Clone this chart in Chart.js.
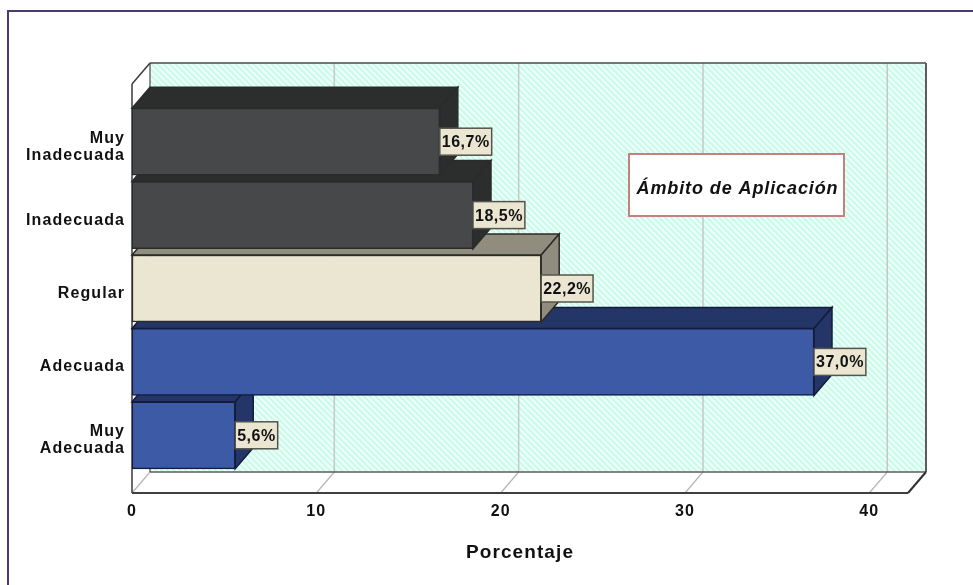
<!DOCTYPE html>
<html><head><meta charset="utf-8">
<style>html,body{margin:0;padding:0;background:#fff;overflow:hidden}canvas{display:block}</style>
<script src="https://cdn.jsdelivr.net/npm/chart.js@4"></script>
</head><body><canvas id="c" width="973" height="585"></canvas>
<script>
const categories = [["Muy","Inadecuada"],"Inadecuada","Regular","Adecuada",["Muy","Adecuada"]];
const values = [16.7,18.5,22.2,37.0,5.6];
const valueLabels = ["16,7%","18,5%","22,2%","37,0%","5,6%"];
const frontColors = ["#46484a","#46484a","#ebe6d2","#3d5aa7","#3d5aa7"];
const sideColors = ["#2c2e2e","#2c2e2e","#918d7e","#243568","#243568"];
const edgeColors = ["#2a2b2b","#2a2b2b","#2c2b26","#141c3c","#141c3c"];
const xTitle = "Porcentaje";
const noteText = "Ámbito de Aplicación";

const DX = 18, DY = 21;
function hatch(ctx){
  const s=6,t=document.createElement('canvas');t.width=s;t.height=s;
  const g=t.getContext('2d');
  for(let x=0;x<s;x++)for(let y=0;y<s;y++){
    const k=(x-y+s*2)%s;
    g.fillStyle=k<2?'#effffa':(k===2||k===5?'#dcfdf2':'#c9fbe9');g.fillRect(x,y,1,1);
  }
  return ctx.createPattern(t,'repeat');
}
function poly(ctx,pts,fill,stroke,w){
  ctx.beginPath();pts.forEach((p,i)=>i?ctx.lineTo(p[0],p[1]):ctx.moveTo(p[0],p[1]));ctx.closePath();
  if(fill){ctx.fillStyle=fill;ctx.fill();}
  if(stroke){ctx.strokeStyle=stroke;ctx.lineWidth=w||1;ctx.stroke();}
}
function line(ctx,a,b,c,w){ctx.beginPath();ctx.moveTo(a[0],a[1]);ctx.lineTo(b[0],b[1]);ctx.strokeStyle=c;ctx.lineWidth=w;ctx.stroke();}

const scene = {
  id:'scene',
  beforeDraw(chart){
    const ctx=chart.ctx;
    ctx.letterSpacing='1.1px';
    // outer frame
    ctx.save();ctx.strokeStyle='#4a3b6c';ctx.lineWidth=2;ctx.strokeRect(8,11,1000,620);ctx.restore();
  },
  beforeDatasetsDraw(chart){
    const ctx=chart.ctx,a=chart.chartArea,xs=chart.scales.x;
    const L=a.left,R=a.right,B=a.bottom+DY,T=a.top-DY;
    const wallT=T-DY+0,wallB=a.bottom;
    ctx.save();
    // back wall
    poly(ctx,[[L+DX,wallT],[R+DX,wallT],[R+DX,wallB],[L+DX,wallB]],hatch(ctx));
    // left wall and floor
    poly(ctx,[[L,wallT+DY],[L+DX,wallT],[L+DX,wallB],[L,B]],'#fff');
    poly(ctx,[[L,B],[L+DX,wallB],[R+DX,wallB],[R,B]],'#fff');
    // grid
    xs.ticks.forEach(t=>{
      const px=xs.getPixelForValue(t.value);
      if(t.value!==0) line(ctx,[px+DX,wallT],[px+DX,wallB],'#c4c8c6',1.5);
      line(ctx,[px,B],[px+DX,wallB],'#b5b5b5',1.2);
    });
    // wall edges
    line(ctx,[L+DX,wallB],[R+DX,wallB],'#5c5c5c',1.5);
    line(ctx,[L+DX,wallT],[R+DX,wallT],'#4a4a4a',1.5);
    line(ctx,[R+DX,wallT],[R+DX,wallB],'#5c5c5c',2);
    line(ctx,[L+DX,wallT],[L+DX,wallB],'#4a4a4a',1.2);
    line(ctx,[L,wallT+DY],[L+DX,wallT],'#3a3a3a',1.5);
    line(ctx,[L,wallT+DY],[L,B],'#3a3a3a',1.5);
    line(ctx,[L,B],[R,B],'#3f3f3f',2);
    line(ctx,[R,B],[R+DX,wallB],'#2f2f2f',2);
    // top and side faces, from the lowest bar upward
    const bars=chart.getDatasetMeta(0).data;
    for(let i=bars.length-1;i>=0;i--){
      const b=bars[i],h=b.height/2,x0=b.base,x1=b.x,y0=b.y-h,y1=b.y+h;
      poly(ctx,[[x0,y0],[x0+DX,y0-DY],[x1+DX,y0-DY],[x1,y0]],sideColors[i],edgeColors[i],1.5);
      poly(ctx,[[x1,y0],[x1+DX,y0-DY],[x1+DX,y1-DY],[x1,y1]],sideColors[i],edgeColors[i],1.5);
    }
    ctx.restore();
  },
  afterDatasetsDraw(chart){
    const ctx=chart.ctx;
    ctx.save();
    ctx.letterSpacing='0.5px';
    const bars=chart.getDatasetMeta(0).data;
    ctx.textBaseline='middle';ctx.textAlign='center';
    ctx.font='bold 16px "Liberation Sans"';
    bars.forEach((b,i)=>{
      const w=ctx.measureText(valueLabels[i]).width+4,h=27,x=b.x,y=b.y-13.5;
      ctx.fillStyle='#ebe6d2';ctx.fillRect(x,y,w,h);
      ctx.strokeStyle='#55544c';ctx.lineWidth=1.5;ctx.strokeRect(x,y,w,h);
      ctx.fillStyle='#111';ctx.fillText(valueLabels[i],x+w/2,b.y+1);
    });
    // note box
    ctx.fillStyle='#fff';ctx.fillRect(629,154,215,62);
    ctx.strokeStyle='#c97f7f';ctx.lineWidth=2;ctx.strokeRect(629,154,215,62);
    ctx.letterSpacing='0.9px';
    ctx.font='italic bold 18px "Liberation Sans"';
    ctx.fillStyle='#111';ctx.fillText(noteText,737.5,189);
    ctx.restore();
  }
};

new Chart(document.getElementById('c'),{
  type:'bar',
  data:{labels:categories,datasets:[{data:values,backgroundColor:frontColors,borderColor:edgeColors,borderWidth:1.5,barThickness:67,borderSkipped:false}]},
  plugins:[scene],
  options:{
    indexAxis:'y',responsive:false,animation:false,
    layout:{padding:{top:105,right:65,bottom:21,left:0}},
    plugins:{legend:{display:false},tooltip:{enabled:false},title:{display:false}},
    scales:{
      x:{type:'linear',min:0,max:42.1,position:'bottom',
        afterFit(s){s.height=92;},
        grid:{display:false},border:{display:false},
        ticks:{stepSize:10,includeBounds:false,maxRotation:0,padding:22,color:'#111',font:{family:'"Liberation Sans"',weight:'bold',size:16}},
        title:{display:true,text:xTitle,color:'#111',padding:0,font:{family:'"Liberation Sans"',size:19,weight:'bold'}}
      },
      y:{type:'category',position:'left',offset:true,
        afterFit(s){s.width=132;},
        grid:{display:false},border:{display:false},
        ticks:{autoSkip:false,padding:-1,labelOffset:5,color:'#111',font:{family:'"Liberation Sans"',weight:'bold',size:16,lineHeight:1.06}}
      }
    }
  }
});
</script></body></html>
